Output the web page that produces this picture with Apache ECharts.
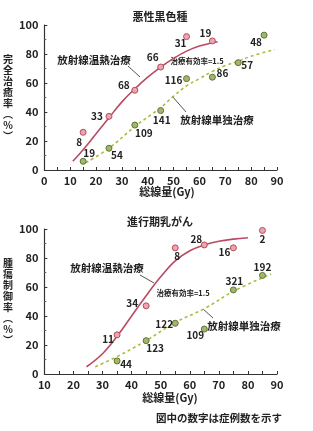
<!DOCTYPE html>
<html><head><meta charset="utf-8">
<script src="https://cdn.jsdelivr.net/npm/echarts@6/dist/echarts.min.js"></script>
<style>html,body{margin:0;padding:0;background:#fff}#c{width:313px;height:431px}</style>
</head><body><div id="c"></div>
<script>
// ---- Top chart: 悪性黒色種 ----
const topHeatX = [15, 25, 35, 45, 55, 65];
const topHeatY = [26, 37, 55, 71, 92, 89];
const topHeatN = ['8', '33', '68', '66', '31', '19'];
const topRadX = [15, 25, 35, 45, 55, 65, 75, 85];
const topRadY = [6, 15, 31, 41, 63, 64, 74, 93];
const topRadN = ['19', '54', '109', '141', '116', '86', '57', '48'];
const topHeatCurveX = [11, 15, 20, 25, 30, 35, 40, 45, 50, 55, 60, 67];
const topHeatCurveY = [6, 14, 25, 36, 47, 56, 64, 71, 77, 82, 85.5, 88.5];
const topRadCurveX = [16, 25, 35, 45, 50, 55, 60, 65, 70, 75, 80, 89];
const topRadCurveY = [5, 15, 30, 43, 51, 58, 63, 68, 72, 75, 78.5, 83];
// ---- Bottom chart: 進行期乳がん ----
const botHeatX = [35, 45, 55, 65, 75, 85];
const botHeatY = [27, 47, 87, 89, 87, 99];
const botHeatN = ['11', '34', '8', '28', '16', '2'];
const botRadX = [35, 45, 55, 65, 75, 85];
const botRadY = [9, 23, 35, 31, 58, 68];
const botRadN = ['44', '123', '122', '109', '321', '192'];
const botHeatCurveX = [24.5, 30, 35, 40, 45, 50, 55, 60, 65, 70, 75, 80];
const botHeatCurveY = [5, 14, 26, 40, 54, 67, 78, 85, 89, 91.5, 93, 94];
const botRadCurveX = [27.5, 35, 45, 55, 65, 75, 88];
const botRadCurveY = [5, 12, 23, 35.5, 45, 57, 69];
// tick labels
const topXTicks = [0, 10, 20, 30, 40, 50, 60, 70, 80, 90];
const botXTicks = [10, 20, 30, 40, 50, 60, 70, 80, 90];
const yTicks = [0, 20, 40, 60, 80, 100];

// label offsets (style)
const topHeatOff = [[-4,10],[-12,0],[-11,-5],[-8,-10],[-6,7],[-7,-8]];
const topRadOff = [[6,-8],[8,7],[9,8],[1,10],[-13,2],[10,-4],[9,3],[-8,7]];
const botHeatOff = [[-9,4],[-14,-3],[2,8],[-8,-6],[-9,4],[0,9]];
const botRadOff = [[9,3],[9,8],[-11,1],[-9,6],[1,-9],[0,-8]];

const RED_LINE = '#b94a62', RED_FILL = '#eaa6b0', RED_BORDER = '#b54c5e';
const GRN_LINE = '#a9bd3c', GRN_FILL = '#a3b66e', GRN_BORDER = '#5e7434';
const TXT = '#222';
const FONT = '"Noto Sans CJK JP", "Noto Sans", sans-serif';

function pts(xs, ys, ns, offs) {
  return xs.map((x, i) => ({
    value: [x, ys[i]],
    label: { show: true, formatter: ns[i], position: 'inside', offset: offs[i],
      color: TXT, fontSize: 10, fontWeight: 'bold', fontFamily: FONT }
  }));
}
function zip(xs, ys) { return xs.map((x, i) => [x, ys[i]]); }

function xAxis(gi, min, ticks) {
  return {
    gridIndex: gi, type: 'value', min: min, max: 90, interval: 10,
    axisLine: { show: true, lineStyle: { color: '#333', width: 1.2 } },
    axisTick: { show: true, inside: true, length: 3, lineStyle: { color: '#333' } },
    minorTick: { show: true, splitNumber: 2, length: 3, lineStyle: { color: '#333' } },
    splitLine: { show: false },
    axisLabel: { color: TXT, fontSize: 11, fontWeight: 'bold', fontFamily: FONT, margin: 5,
      formatter: v => ticks.includes(v) ? String(v) : '' }
  };
}
function yAxis(gi, name) {
  return {
    gridIndex: gi, type: 'value', min: 0, max: 100, interval: 20,
    name: name, nameLocation: 'middle', nameRotate: 0, nameGap: 23,
    nameTextStyle: { color: TXT, fontSize: 10, fontWeight: 'bold', fontFamily: FONT, lineHeight: 11 },
    axisLine: { show: true, lineStyle: { color: '#333', width: 1.2 } },
    axisTick: { show: true, inside: true, length: 3, lineStyle: { color: '#333' } },
    minorTick: { show: true, splitNumber: 2, length: 2, lineStyle: { color: '#666' } },
    splitLine: { show: false },
    axisLabel: { color: TXT, fontSize: 11, fontWeight: 'bold', fontFamily: FONT, margin: 6,
      formatter: v => yTicks.includes(v) ? String(v) : '' }
  };
}
function curve(gi, xs, ys, color, dashed) {
  return { type: 'line', xAxisIndex: gi, yAxisIndex: gi, data: zip(xs, ys), smooth: 0.4,
    showSymbol: false, symbol: 'none', silent: true, z: 2,
    lineStyle: { color: color, width: 1.6, type: dashed ? [3, 3] : 'solid' } };
}
function scat(gi, data, fill, border) {
  return { type: 'scatter', xAxisIndex: gi, yAxisIndex: gi, data: data, symbolSize: 6, z: 3,
    itemStyle: { color: fill, borderColor: border, borderWidth: 1, opacity: 1 } };
}
function txt(x, y, s, size) {
  return { type: 'text', x: x, y: y, style: { text: s, fill: TXT,
    font: 'bold ' + size + 'px ' + FONT, textAlign: 'center', textVerticalAlign: 'middle' } };
}
function seg(x1, y1, x2, y2) {
  return { type: 'line', shape: { x1, y1, x2, y2 }, style: { stroke: '#555', lineWidth: 1 } };
}

const chart = echarts.init(document.getElementById('c'), null, { renderer: 'canvas' });
chart.setOption({
  backgroundColor: '#fff',
  animation: false,
  grid: [
    { left: 44, top: 25, width: 233, height: 145 },
    { left: 44, top: 229, width: 233, height: 145 }
  ],
  xAxis: [xAxis(0, 0, topXTicks), xAxis(1, 10, botXTicks)],
  yAxis: [
    yAxis(0, '完\n全\n治\n癒\n率\n︵\n%\n︶'),
    yAxis(1, '腫\n瘍\n制\n御\n率\n︵\n%\n︶')
  ],
  series: [
    curve(0, topHeatCurveX, topHeatCurveY, RED_LINE, false),
    curve(0, topRadCurveX, topRadCurveY, GRN_LINE, true),
    scat(0, pts(topHeatX, topHeatY, topHeatN, topHeatOff), RED_FILL, RED_BORDER),
    scat(0, pts(topRadX, topRadY, topRadN, topRadOff), GRN_FILL, GRN_BORDER),
    curve(1, botHeatCurveX, botHeatCurveY, RED_LINE, false),
    curve(1, botRadCurveX, botRadCurveY, GRN_LINE, true),
    scat(1, pts(botHeatX, botHeatY, botHeatN, botHeatOff), RED_FILL, RED_BORDER),
    scat(1, pts(botRadX, botRadY, botRadN, botRadOff), GRN_FILL, GRN_BORDER)
  ],
  graphic: [
    txt(160, 17, '悪性黒色種', 11),
    txt(167, 192, '総線量(Gy)', 11),
    txt(94, 60, '放射線温熱治療', 10.5),
    txt(197, 61, '治療有効率=1.5', 7.5),
    txt(217, 120, '放射線単独治療', 10.5),
    seg(128, 66, 140, 77),
    seg(172, 96, 186, 112),
    txt(160, 222, '進行期乳がん', 11),
    txt(170, 398, '総線量(Gy)', 11),
    txt(107, 268, '放射線温熱治療', 10.5),
    txt(183, 293, '治療有効率=1.5', 7.5),
    txt(244, 326, '放射線単独治療', 10.5),
    seg(140, 275, 154, 283),
    seg(203, 309, 213, 318),
    txt(219, 418, '図中の数字は症例数を示す', 10.5)
  ]
});
</script></body></html>
